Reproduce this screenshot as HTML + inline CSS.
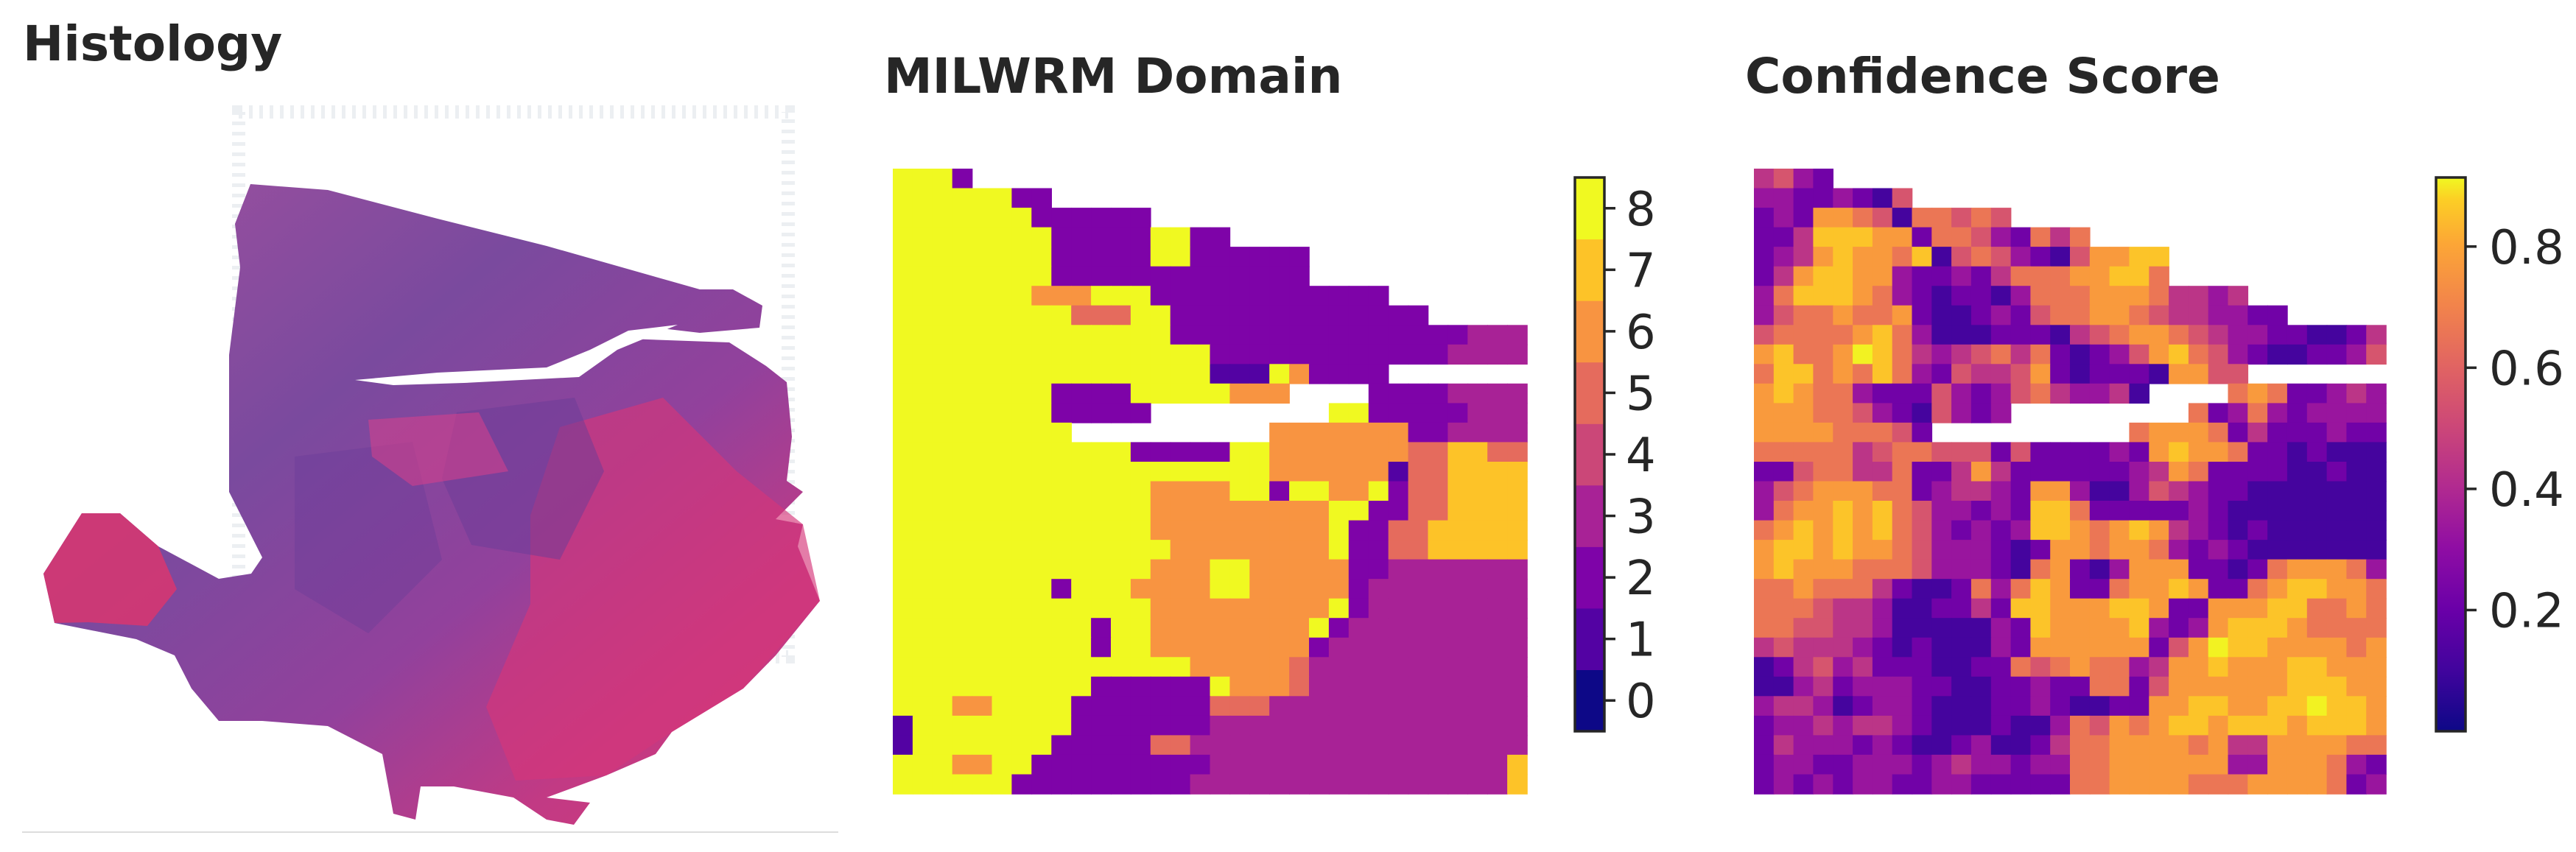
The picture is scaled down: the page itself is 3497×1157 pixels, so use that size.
<!DOCTYPE html>
<html><head><meta charset="utf-8">
<style>
html,body{margin:0;padding:0;background:#fff;}
body{width:3497px;height:1157px;overflow:hidden;position:relative;font-family:"DejaVu Sans","Liberation Sans",sans-serif;}
svg{position:absolute;left:0;top:0;}
</style></head>
<body>
<svg id="fig" width="3497" height="1157" viewBox="0 0 3497 1157" xmlns="http://www.w3.org/2000/svg">
  <defs>
    <linearGradient id="tissueGrad" x1="0" y1="0" x2="1" y2="1">
      <stop offset="0" stop-color="#a0509f"/>
      <stop offset="0.35" stop-color="#7a4a9e"/>
      <stop offset="0.6" stop-color="#92419c"/>
      <stop offset="0.8" stop-color="#c23a84"/>
      <stop offset="1" stop-color="#d2387a"/>
    </linearGradient>
    <linearGradient id="cbGrad" x1="0" y1="1" x2="0" y2="0">
      <stop offset="0" stop-color="#0d0887"/>
      <stop offset="0.11" stop-color="#41049d"/>
      <stop offset="0.22" stop-color="#6a00a8"/>
      <stop offset="0.33" stop-color="#8f0da4"/>
      <stop offset="0.44" stop-color="#b12a90"/>
      <stop offset="0.55" stop-color="#cc4778"/>
      <stop offset="0.66" stop-color="#e16462"/>
      <stop offset="0.77" stop-color="#f2844b"/>
      <stop offset="0.88" stop-color="#fca636"/>
      <stop offset="0.96" stop-color="#fcce25"/>
      <stop offset="1" stop-color="#f0f921"/>
    </linearGradient>
  </defs>

  <!-- Histology panel -->
  <text x="31" y="82" font-size="66" font-weight="bold" fill="#262626">Histology</text>
  <g>
    <rect x="30" y="108" width="1108" height="1022" fill="#ffffff"/>
    <line x1="30" y1="1130" x2="1138" y2="1130" stroke="#dddddd" stroke-width="2"/>
    <rect x="324" y="152" width="746" height="740" fill="none" stroke="#dfe4ea" stroke-width="18" stroke-dasharray="5 9" opacity="0.6"/>
    <polygon fill="url(#tissueGrad)" points="340,250 445,258 594,297 742,334 950,393 995,393 1035,415 1031,445 950,452 890,445 853,460 990,465 1040,497 1068,519 1075,593 1068,653 1090,668 1053,705 1090,712 1083,742 1113,816 1053,890 1009,935 912,994 890,1024 823,1053 742,1083 801,1090 779,1120 742,1113 697,1083 616,1068 571,1068 564,1113 534,1105 519,1024 445,986 356,979 297,979 260,935 237,890 185,868 74,846 59,779 111,697 163,697 215,742 297,786 341,779 356,757 311,668 311,482 326,363 319,304"/>
    <polygon fill="#d9366e" opacity="0.85" points="59,779 111,697 163,697 215,742 240,800 200,850 120,845 74,846"/>
    <polygon fill="#d6357a" opacity="0.65" points="760,580 900,540 1000,640 1090,712 1113,816 1009,935 912,994 823,1053 700,1060 660,960 720,820 720,700"/>
    <polygon fill="#6a3c98" opacity="0.5" points="620,560 780,540 820,640 760,760 640,740 600,650"/>
    <polygon fill="#6a3c98" opacity="0.4" points="400,620 560,600 600,760 500,860 400,800"/>
    <polygon fill="#e2408a" opacity="0.5" points="500,570 650,560 690,640 560,660 505,620"/>
    <polygon fill="#ffffff" points="482,516 594,506 742,499 801,475 853,449 920,441 838,475 786,512 630,520 534,523"/>
  </g>

  <!-- MILWRM Domain panel -->
  <text x="1200" y="126" font-size="66" font-weight="bold" fill="#262626">MILWRM Domain</text>
  <g id="domainPlot"></g>
  <g id="domainCbar"></g>

  <!-- Confidence panel -->
  <text x="2369" y="126" font-size="66" font-weight="bold" fill="#262626">Confidence Score</text>
  <g id="confPlot"></g>
  <g id="confCbar"></g>
</svg>
<script>
// ---- data ----
const domainRows = [
"8882............................",
"88888822........................",
"8888888222222...................",
"88888888222228822...............",
"888888882222288222222...........",
"888888882222222222222...........",
"8888888666888222222222222.......",
"888888888555882222222222222.....",
"88888888888888222222222222222333",
"88888888888888882222222222223333",
"8888888888888888111862222.......",
"88888888222288888666....22223333",
"8888888822222.........8822222333",
"888888888..........6666666223333",
"88888888888822222886666666557755",
"88888888888888888886666661557777",
"88888888888886666882886682557777",
"88888888888886666666668822557777",
"88888888888886666666668225577777",
"88888888888888666666668225577777",
"88888888888886668866666223333333",
"88888888288866668866666233333333",
"88888888888886666666668233333333",
"88888888882886666666682333333333",
"88888888882886666666623333333333",
"88888888888888866666533333333333",
"88888888882222228666533333333333",
"88866888822222225553333333333333",
"18888888822222223333333333333333",
"18888888222225533333333333333333",
"88866882222222223333333333333337",
"88888822222222233333333333333337"
];
const confRows = [
"45322222222222222222222222222222",
"33223215555555555555555555555555",
"23277651665655555555555555555555",
"22488877266532646666666666666666",
"23478776815653215778888888888888",
"24788773223246667788666666666666",
"36888763212213666777644343333333",
"35667667211232566776544332232222",
"56666786311122214567765433221124",
"78667986434564621235786532112235",
"68867686325445721222177555555444",
"78766322253235643341155667622343",
"77766532153235555555556236323333",
"77776665255555555556777624222322",
"66666456655525222232787762212111",
"22566446224742222223476222211211",
"35677766234432773113543221111111",
"36778786533232886222223211111111",
"67878786532323887678743212111111",
"78878776533321277677632321111111",
"78777666533321672137772212677763",
"66766642112636872267787226788776",
"66654431122428877788722777886676",
"66554431111132877778323788876666",
"45444321211132777777257988777767",
"12453422211226567663477877788777",
"11342333221122322662577777788877",
"34431233211122321122778877889887",
"23343443211121136576788788878887",
"24333232112311246677776744777766",
"23322333234332336677777733777632",
"23232332233222226677776667777623"
];
const domainTicks = [0,1,2,3,4,5,6,7,8];
const confTicks = [0.2,0.4,0.6,0.8];
const confTickLabels = ["0.2","0.4","0.6","0.8"];
const confMin = 0, confMax = 0.914;

// ---- styling ----
const domainColors = ["#0d0887","#5302a3","#7e03a8","#a82296","#cb4778","#e56b5d","#f89441","#fdc328","#f0f921"];
const plasmaStops = ["#0d0887","#41049d","#6a00a8","#8f0da4","#b12a90","#cc4778","#e16462","#f2844b","#fca636","#fcce25","#f0f921"];
const NS = "http://www.w3.org/2000/svg";
function hex2rgb(h){return [parseInt(h.slice(1,3),16),parseInt(h.slice(3,5),16),parseInt(h.slice(5,7),16)];}
function plasma(t){
  t=Math.max(0,Math.min(1,t));
  const p=t*(plasmaStops.length-1), i=Math.min(Math.floor(p),plasmaStops.length-2), f=p-i;
  const a=hex2rgb(plasmaStops[i]), b=hex2rgb(plasmaStops[i+1]);
  return "rgb("+a.map((v,k)=>Math.round(v+(b[k]-v)*f)).join(",")+")";
}
function mk(tag, attrs, parent){
  const e=document.createElementNS(NS,tag);
  for(const k in attrs) e.setAttribute(k,attrs[k]);
  parent.appendChild(e); return e;
}
const nCols=32, nRows=32;
function gridX(x0,x1,c){return x0+(x1-x0)*c/nCols;}
function gridY(y0,y1,r){return y0+(y1-y0)*r/nRows;}

const PY0=229, PY1=1078;
// domain plot
const dg=document.getElementById("domainPlot");
const DX0=1212, DX1=2073;
domainRows.forEach((row,r)=>{
  for(let c=0;c<nCols;c++){
    const ch=row[c];
    if(!ch||ch==='.') continue;
    const x=gridX(DX0,DX1,c), y=gridY(PY0,PY1,r);
    const el=mk("rect",{x:x.toFixed(1),y:y.toFixed(1),width:((DX1-DX0)/nCols+0.8).toFixed(1),height:((PY1-PY0)/nRows+0.8).toFixed(1),fill:domainColors[+ch]},dg);
    
    
  }
});

// confidence plot (same spot mask)
const cg=document.getElementById("confPlot");
const CX0=2381, CX1=3239;
domainRows.forEach((row,r)=>{
  for(let c=0;c<nCols;c++){
    const ch=row[c];
    if(!ch||ch==='.') continue;
    const v=(+(confRows[r][c]||"5"))/10;
    const x=gridX(CX0,CX1,c), y=gridY(PY0,PY1,r);
    const el=mk("rect",{x:x.toFixed(1),y:y.toFixed(1),width:((CX1-CX0)/nCols+0.8).toFixed(1),height:((PY1-PY0)/nRows+0.8).toFixed(1),fill:plasma((v-confMin)/(confMax-confMin))},cg);
    
    
  }
});

// domain colorbar
const CB_TOP=241, CB_BOT=993;
const db=document.getElementById("domainCbar");
const nD=domainTicks.length;
function dY(v){return CB_BOT-(v+0.5)*(CB_BOT-CB_TOP)/nD;}
domainTicks.forEach((v,i)=>{
  const yTop=dY(v+0.5), yBot=dY(v-0.5);
  const seg=mk("rect",{x:2138,y:yTop.toFixed(1),width:40,height:(yBot-yTop+0.5).toFixed(1),fill:domainColors[i]},db);
  
  
  const t=mk("line",{x1:2178,x2:2193,y1:dY(v),y2:dY(v),stroke:"#262626","stroke-width":3.5},db);
  
  
  const lb=mk("text",{x:2207,y:(dY(v)+23).toFixed(1),"font-size":64,fill:"#262626"},db);
  lb.textContent=String(v);
  
  
});
const dframe=mk("rect",{x:2138,y:CB_TOP,width:40,height:CB_BOT-CB_TOP,fill:"none",stroke:"#262626","stroke-width":3.5},db);



// confidence colorbar
const cb=document.getElementById("confCbar");
const grad=mk("rect",{x:3307,y:CB_TOP,width:40,height:CB_BOT-CB_TOP,fill:"url(#cbGrad)",stroke:"#262626","stroke-width":3.5},cb);


function cY(v){return CB_BOT-(v-confMin)/(confMax-confMin)*(CB_BOT-CB_TOP);}
confTicks.forEach((v,i)=>{
  const t=mk("line",{x1:3347,x2:3362,y1:cY(v),y2:cY(v),stroke:"#262626","stroke-width":3.5},cb);
  
  
  const lb=mk("text",{x:3379,y:(cY(v)+23).toFixed(1),"font-size":64,fill:"#262626"},cb);
  lb.textContent=confTickLabels[i];
  
  
});
</script>
</body></html>
